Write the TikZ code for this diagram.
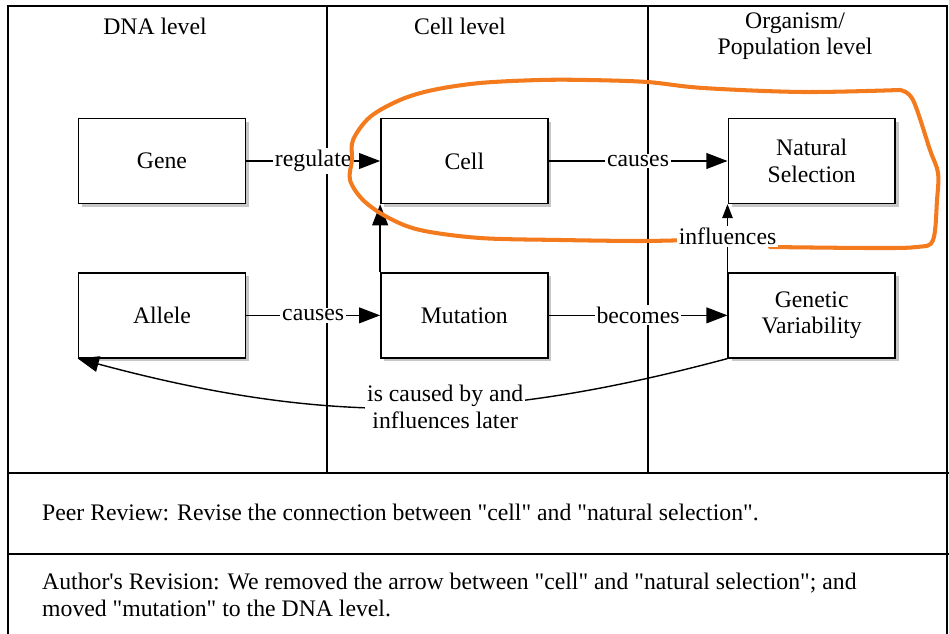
\documentclass[tikz,border=0pt]{standalone}
\usepackage{fontspec}
\setmainfont{Liberation Serif}
\usepackage{xcolor}
\usepackage{tikz}
\usetikzlibrary{arrows.meta, positioning, shadows}

\definecolor{markup}{RGB}{244,122,30}
\newcommand{\quoted}[1]{\textquotedbl#1\textquotedbl}

\begin{document}
\begin{tikzpicture}[
  x=0.02cm, y=-0.02cm,
  font=\fontsize{13.5}{15}\selectfont,
  concept/.style = {rectangle, draw=black, fill=white, thick, minimum width=3.34cm, minimum height=1.7cm, align=center,
                    drop shadow={shadow xshift=2pt, shadow yshift=-2pt, fill=black, opacity=0.22}},
  arrow/.style = {-{Triangle[length=12pt, width=9pt]}, thick},
  smallarrow/.style = {-{Triangle[length=8pt, width=6pt]}, thick},
  link/.style = {fill=white, inner sep=1pt},
  level/.style = {align=center},
  node distance=1.36cm and 2.68cm
]
\useasboundingbox (0,0) rectangle (949,634);

% frame and columns
\draw[thick] (8,634) -- (8,6) -- (947,6) -- (947,634);
\draw[thick] (327,6) -- (327,473);
\draw[thick] (648,6) -- (648,473);
\draw[line width=1.3pt] (8,473) -- (949,473);
\draw[line width=1.3pt] (8,554) -- (949,554);

% column headings
\node[level] (dnalevel) at (155,26) {DNA level};
\node[level] (celllevel) at (460,26) {Cell level};
\node[level] (poplevel) at (795,36) {Organism/\\Population level};

% concepts
\node[concept] (gene) at (162,161) {Gene};
\node[concept, right=of gene] (cell) {Cell};
\node[concept, right=3.58cm of cell] (natsel) {Natural\\Selection};
\node[concept, below=of gene] (allele) {Allele};
\node[concept, below=of cell] (mutation) {Mutation};
\node[concept, below=of natsel] (genvar) {Genetic\\Variability};

% links
\draw[arrow] (gene) -- node[link] {regulate} (cell);
\draw[arrow] (cell) -- node[link] {causes} (natsel);
\draw[arrow] (allele) -- node[link] {causes} (mutation);
\draw[arrow] (mutation) -- node[link] {becomes} (genvar);
\draw[arrow] (mutation.north west) -- (cell.south west);
\draw[arrow] (genvar.south west) to[bend left=15]
  node[link, pos=0.43, align=center] {is caused by and\\influences later} (allele.south west);

% reviewer's loop
\draw[markup, line width=2.3pt, line cap=round, line join=round]
  plot[smooth, tension=0.55] coordinates {
    (690,240) (640,241) (560,240) (480,238) (420,230) (387,217) (363,200)
    (350,180) (352,160) (353,140) (370,117) (400,100) (433,90) (480,83)
    (540,80) (587,80) (647,82) (703,88) (803,92) (900,90)}
  -- plot[smooth, tension=0.55] coordinates {
    (900,90) (913,100) (930,150) (938,173) (937,200) (933,240) (917,247)
    (870,248) (770,247)};

\draw[smallarrow] (genvar.south west) -- node[link, pos=0.79] {influences} (natsel.south west);

% review notes
\node[anchor=west] (review) at (36,512) {Peer Review: Revise the connection between \quoted{cell} and \quoted{natural selection}.};
\node[anchor=west, align=left] (revision) at (36,595) {Author\textquotesingle s Revision: We removed the arrow between \quoted{cell} and \quoted{natural selection}; and\\moved \quoted{mutation} to the DNA level.};

\end{tikzpicture}
\end{document}
